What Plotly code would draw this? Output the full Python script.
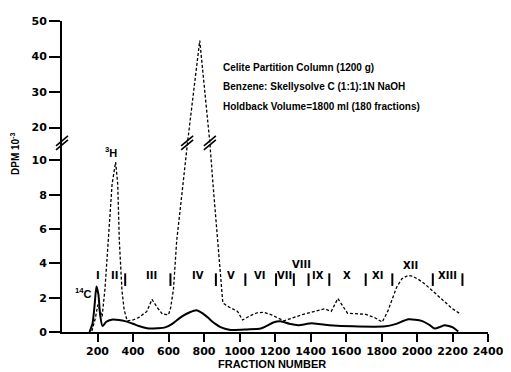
import numpy as np
import plotly.graph_objects as go

# ---------------- data ----------------
fraction_h3 = [168, 188, 202, 214, 226, 242, 260, 282, 302, 314, 323, 338, 350, 367,
               400, 433, 478, 507, 535, 565, 600, 612, 628, 646, 674, 708, 776, 832,
               850, 878, 906, 933, 989, 1017, 1060, 1100, 1135, 1180, 1250, 1359,
               1480, 1517, 1554, 1609, 1711, 1760, 1804, 1835, 1859, 1885, 1915,
               1950, 1975, 2010, 2044, 2100, 2156, 2200, 2248]
dpm_h3 = [0.05, 0.8, 1.6, 1.3, 0.9, 2.5, 5.3, 8.6, 9.9, 8.6, 5.3, 2.4, 1.3, 0.65,
          0.7, 0.85, 1.2, 1.9, 1.45, 1.05, 1.0, 1.4, 2.5, 5.3, 7.9, 15.5, 44.5, 16.0,
          8.7, 5.3, 1.7, 1.5, 1.2, 0.7, 0.95, 1.12, 1.15, 1.0, 0.65, 1.03,
          1.35, 1.2, 1.95, 1.09, 1.03, 0.85, 0.58, 1.2, 1.9, 2.6, 3.1,
          3.3, 3.25, 3.05, 2.8, 2.3, 1.8, 1.35, 1.03]

fraction_c14 = [155, 172, 184, 194, 205, 215, 228, 250, 280, 320, 360, 400, 433, 489,
                540, 581, 619, 674, 720, 757, 790, 822, 860, 896, 950, 1044, 1120,
                1156, 1190, 1230, 1280, 1331, 1406, 1460, 1507, 1637, 1822, 1878,
                1952, 2026, 2072, 2100, 2130, 2156, 2202, 2232]
dpm_c14 = [0.0, 0.5, 1.6, 2.65, 2.2, 1.0, 0.35, 0.6, 0.72, 0.7, 0.62, 0.48, 0.35, 0.2,
           0.22, 0.27, 0.46, 0.9, 1.15, 1.27, 1.1, 0.84, 0.5, 0.27, 0.12, 0.15, 0.2,
           0.37, 0.55, 0.62, 0.48, 0.4, 0.51, 0.45, 0.4, 0.33, 0.33, 0.46,
           0.74, 0.65, 0.4, 0.2, 0.3, 0.4, 0.27, 0.03]

zone_labels = ["I", "II", "III", "IV", "V", "VI", "VII", "VIII", "IX", "X", "XI", "XII", "XIII"]
zone_centers = [200, 294, 506, 767, 950, 1111, 1256, 1350, 1444, 1606, 1778, 1961, 2172]
zone_label_levels = [3.3, 3.3, 3.3, 3.3, 3.3, 3.3, 3.3, 3.95, 3.3, 3.3, 3.3, 3.85, 3.3]
zone_dividers = [356, 611, 867, 1033, 1206, 1306, 1389, 1506, 1711, 1861, 2089, 2256]
divider_level = 3.05

x_ticks = [200, 400, 600, 800, 1000, 1200, 1400, 1600, 1800, 2000, 2200, 2400]
y_ticks = [0, 2, 4, 6, 8, 10, 20, 30, 40, 50]

info_lines = ["Celite Partition Column (1200 g)",
              "Benzene: Skellysolve C (1:1):1N NaOH",
              "Holdback Volume=1800 ml (180 fractions)"]

# ---------------- broken-axis scale (0-10.9 | 16.3-50) ----------------
SCALE_IN = [0, 10.9, 16.3, 50]
SCALE_OUT = [0, 10.9, 11.143, 18.114]


def scale(v):
    return np.interp(np.asarray(v, dtype=float), SCALE_IN, SCALE_OUT)


BREAK_T = (SCALE_OUT[1] + SCALE_OUT[2]) / 2

BOLD = "Liberation Sans"
TICKF = dict(family="DejaVu Sans", size=11, color="black", weight="bold")

fig = go.Figure()

fig.add_trace(go.Scatter(
    x=fraction_h3, y=scale(dpm_h3), mode="lines", name="3H",
    line=dict(color="black", width=1.3, dash="3px,2px"), hoverinfo="skip"))

fig.add_trace(go.Scatter(
    x=fraction_c14, y=scale(dpm_c14), mode="lines", name="14C",
    line=dict(color="black", width=2, shape="spline", smoothing=0.6), hoverinfo="skip"))

fig.add_trace(go.Scatter(
    x=zone_dividers, y=scale([divider_level] * len(zone_dividers)), mode="markers",
    marker=dict(symbol="line-ns", size=9, line=dict(width=2, color="black")),
    hoverinfo="skip"))

annotations = []
for lab, xc, lv in zip(zone_labels, zone_centers, zone_label_levels):
    annotations.append(dict(x=xc, y=float(scale(lv)), xref="x", yref="y", text=lab,
                            showarrow=False, font=dict(family="DejaVu Sans", size=10,
                                                       color="black", weight="bold")))

annotations += [
    dict(x=278, y=float(scale(10.5)), xref="x", yref="y", text="<sup>3</sup>H",
         showarrow=False, font=dict(family=BOLD, size=11, color="black", weight="bold")),
    dict(x=122, y=float(scale(2.3)), xref="x", yref="y", text="<sup>14</sup>C",
         showarrow=False, font=dict(family=BOLD, size=11, color="black", weight="bold")),
    dict(x=-0.109, y=0.571, xref="paper", yref="paper", text="DPM 10<sup>-3</sup>",
         textangle=-90, showarrow=False, xanchor="center", yanchor="middle",
         font=dict(family=BOLD, size=10, color="black", weight="bold")),
    dict(x=0.493, y=-0.104, xref="paper", yref="paper", text="FRACTION NUMBER",
         showarrow=False, xanchor="center", yanchor="middle",
         font=dict(family=BOLD, size=11, color="black", weight="bold")),
]
for i, line in enumerate(info_lines):
    annotations.append(dict(x=0.3727, y=0.852 - i * 0.063, xref="paper", yref="paper",
                            text=line, xanchor="left", yanchor="middle", showarrow=False,
                            font=dict(family=BOLD, size=10, color="black", weight="bold")))

# break marks "//" on the y axis and on the 3H peak
shapes = []
for xref, xa in [("paper", 0), ("x", 705), ("x", 833)]:
    for off in (-2, 2):
        shapes.append(dict(type="line", xref=xref, yref="y", xsizemode="pixel",
                           ysizemode="pixel", xanchor=xa, yanchor=BREAK_T,
                           x0=-6, x1=6, y0=-5 + off, y1=5 + off,
                           line=dict(color="black", width=1.6)))

# the page body has an 8px default margin, so the figure is sized to fit the window
fig.update_layout(
    width=503, height=364,
    margin=dict(l=54, r=17, t=7, b=40),
    paper_bgcolor="white", plot_bgcolor="white",
    showlegend=False,
    annotations=annotations, shapes=shapes,
    xaxis=dict(range=[0, 2400], tickvals=x_ticks, ticktext=[str(v) for v in x_ticks],
               showline=True, linewidth=2, linecolor="black", ticks="outside",
               ticklen=8, tickwidth=2, tickcolor="black", showgrid=False, zeroline=False,
               tickfont=TICKF),
    yaxis=dict(range=[0, SCALE_OUT[-1]], tickvals=list(scale(y_ticks)),
               ticktext=[str(v) for v in y_ticks],
               showline=True, linewidth=2, linecolor="black", ticks="outside",
               ticklen=11, tickwidth=1.5, tickcolor="black", showgrid=False,
               zeroline=False, tickfont=TICKF),
)

fig.write_html("out.html")
